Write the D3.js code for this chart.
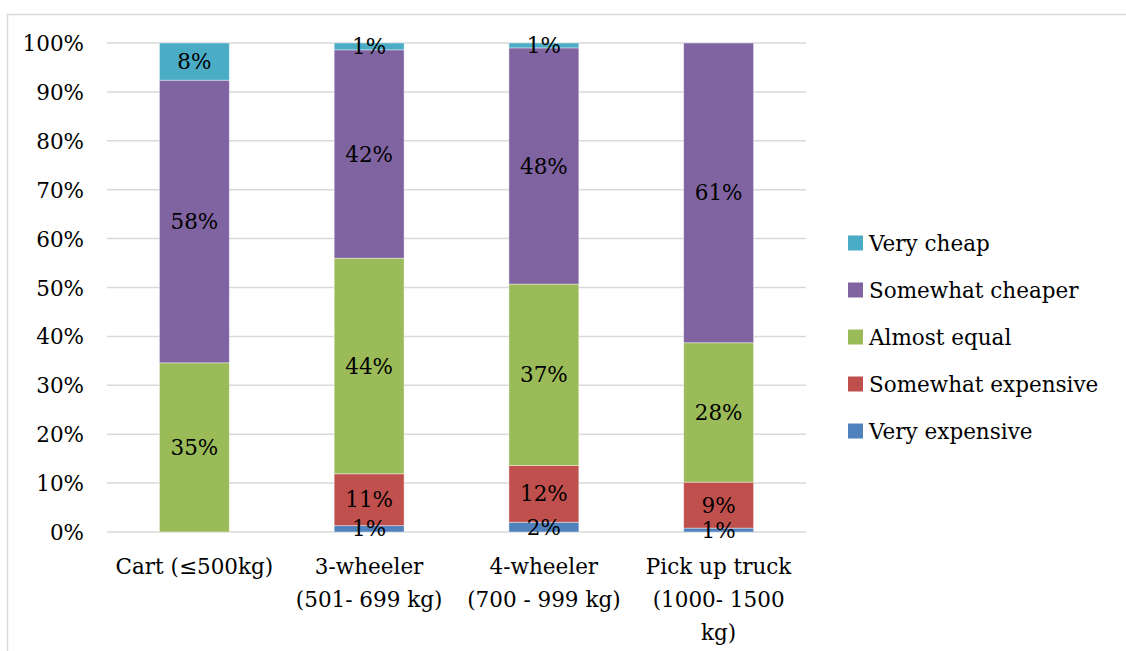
<!DOCTYPE html>
<html>
<head>
<meta charset="utf-8">
<script src="https://cdn.jsdelivr.net/npm/d3@7"></script>
<style>
  html, body { margin: 0; padding: 0; background: #fff; }
  svg { display: block; }
  text { font-family: "DejaVu Serif", "Liberation Serif", serif; fill: #000; }
</style>
</head>
<body>
<svg id="chart" width="1126" height="651"></svg>
<script>
// ---- Data ----
const categories = ["Cart (≤500kg)", "3-wheeler (501- 699 kg)", "4-wheeler (700 - 999 kg)", "Pick up truck (1000- 1500 kg)"];
const categoryLines = [["Cart (≤500kg)"], ["3-wheeler", "(501- 699 kg)"], ["4-wheeler", "(700 - 999 kg)"], ["Pick up truck", "(1000- 1500", "kg)"]];
const seriesNames = ["Very expensive", "Somewhat expensive", "Almost equal", "Somewhat cheaper", "Very cheap"];
const veryExpensive     = [0.0, 1.3, 2.0, 0.8];
const somewhatExpensive = [0.0, 10.6, 11.6, 9.4];
const almostEqual       = [34.6, 44.1, 37.1, 28.5];
const somewhatCheaper   = [57.8, 42.6, 48.3, 61.3];
const veryCheap         = [7.6, 1.4, 1.0, 0.0];
const labelsVeryExpensive     = ["", "1%", "2%", "1%"];
const labelsSomewhatExpensive = ["", "11%", "12%", "9%"];
const labelsAlmostEqual       = ["35%", "44%", "37%", "28%"];
const labelsSomewhatCheaper   = ["58%", "42%", "48%", "61%"];
const labelsVeryCheap         = ["8%", "1%", "1%", ""];
const yTicks = [0, 10, 20, 30, 40, 50, 60, 70, 80, 90, 100];
const colors = ["#4F81BD", "#C0504D", "#9BBB59", "#8064A2", "#4BACC6"];

const seriesValues = [veryExpensive, somewhatExpensive, almostEqual, somewhatCheaper, veryCheap];
const seriesLabels = [labelsVeryExpensive, labelsSomewhatExpensive, labelsAlmostEqual, labelsSomewhatCheaper, labelsVeryCheap];

const table = categories.map((c, i) => {
  const row = { cat: c };
  seriesNames.forEach((s, j) => row[s] = seriesValues[j][i]);
  return row;
});

// ---- Layout ----
const svg = d3.select("#chart");
const W = 1126, H = 651;
const FS = "21.5px";
const plot = { left: 107, right: 806, top: 43, bottom: 532 };

// outer border (chart area, clipped at right and bottom)
svg.append("path")
  .attr("d", `M7.5,${H + 2} L7.5,14.5 L${W + 2},14.5`)
  .attr("fill", "none").attr("stroke", "#D9D9D9").attr("stroke-width", 1.5);

const x = d3.scaleBand().domain(categories).range([plot.left, plot.right]).paddingInner(0.6).paddingOuter(0.3);
const y = d3.scaleLinear().domain([0, 100]).range([plot.bottom, plot.top]);

// gridlines
svg.append("g").selectAll("line").data(yTicks).join("line")
  .attr("x1", plot.left).attr("x2", plot.right)
  .attr("y1", d => y(d)).attr("y2", d => y(d))
  .attr("stroke", "#D9D9D9").attr("stroke-width", 1.5);

// y axis labels
const yAxis = d3.axisLeft(y).tickValues(yTicks).tickFormat(d => d + "%").tickSize(0).tickPadding(0);
const yg = svg.append("g").attr("transform", `translate(84,0)`).call(yAxis);
yg.select(".domain").remove();
yg.selectAll("text").style("font-size", FS).style("font-family", "DejaVu Serif, Liberation Serif, serif").attr("fill", "#000").attr("dy", "0.35em");

// stacks
const stack = d3.stack().keys(seriesNames);
const stacked = stack(table);

const groups = svg.append("g").selectAll("g").data(stacked).join("g")
  .attr("fill", (d, i) => colors[i]);

groups.selectAll("rect").data(d => d).join("rect")
  .attr("x", d => x(d.data.cat))
  .attr("width", x.bandwidth())
  .attr("y", d => y(d[1]))
  .attr("height", d => Math.max(0, y(d[0]) - y(d[1])))
  .attr("stroke", "rgba(255,255,255,0.5)").attr("stroke-width", 0.8);

// data labels
const lg = svg.append("g");
stacked.forEach((s, j) => {
  s.forEach((d, i) => {
    const lab = seriesLabels[j][i];
    if (!lab) return;
    lg.append("text")
      .attr("x", x(d.data.cat) + x.bandwidth() / 2)
      .attr("y", (y(d[0]) + y(d[1])) / 2)
      .attr("dy", "0.35em")
      .attr("text-anchor", "middle")
      .style("font-size", FS)
      .text(lab);
  });
});

// x labels
categories.forEach((c, i) => {
  const t = svg.append("text")
    .attr("x", x(c) + x.bandwidth() / 2)
    .attr("y", 574)
    .attr("text-anchor", "middle")
    .style("font-size", FS);
  categoryLines[i].forEach((ln, k) => {
    t.append("tspan").attr("x", x(c) + x.bandwidth() / 2).attr("y", 574 + k * 33).text(ln);
  });
});

// legend
const legendOrder = [4, 3, 2, 1, 0];
const leg = svg.append("g");
legendOrder.forEach((j, k) => {
  const cy = 243 + k * 47;
  leg.append("rect").attr("x", 848).attr("y", cy - 7.5).attr("width", 15).attr("height", 15).attr("fill", colors[j]);
  leg.append("text").attr("x", 869).attr("y", cy).attr("dy", "0.35em")
    .style("font-size", FS).text(seriesNames[j]);
});
</script>
</body>
</html>
